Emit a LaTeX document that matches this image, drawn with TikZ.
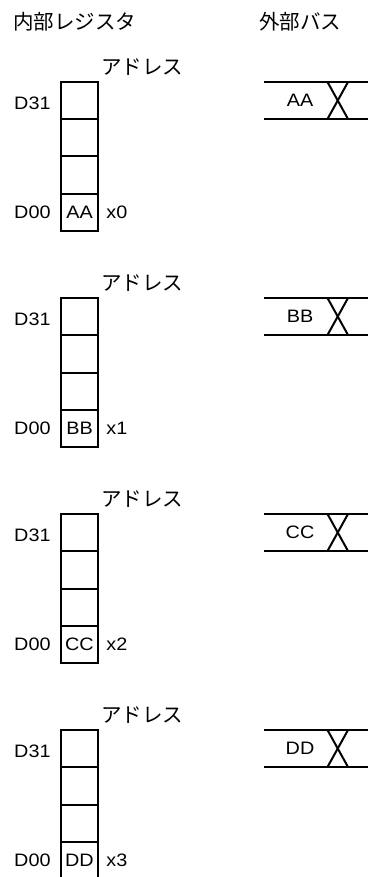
\documentclass[tikz,border=0pt]{standalone}
\usepackage{fontspec}
\setmainfont{Liberation Sans}[FakeStretch=1.1]
\newfontfamily\jpfont{Noto Sans CJK JP}
\usetikzlibrary{positioning}

\begin{document}
\begin{tikzpicture}[x=1pt,y=-1pt,
  regcell/.style={draw,line width=2pt,outer sep=0pt,inner sep=0pt,
    minimum width=37.5pt,minimum height=37.25pt,font=\fontsize{18}{21}\selectfont},
  reglabel/.style={inner sep=0pt,font=\fontsize{18}{21}\selectfont},
  jplabel/.style={inner sep=0pt,font=\jpfont\fontsize{20.5}{24}\selectfont},
  busline/.style={line width=2pt}
]
  \useasboundingbox (0,0) rectangle (368,877);
  % headings
  \node[jplabel,anchor=west] (titlereg) at (13,22) {内部レジスタ};
  \node[jplabel,anchor=west] (titlebus) at (259,22) {外部バス};
  \foreach \val [count=\i from 0] in {AA,BB,CC,DD} {
    % register column, D31 at top
    \node[regcell] (cell\i-3) at (79.5,{82+18.625+216*\i}) {};
    \node[regcell,below=0pt of cell\i-3] (cell\i-2) {};
    \node[regcell,below=0pt of cell\i-2] (cell\i-1) {};
    \node[regcell,below=0pt of cell\i-1] (cell\i-0) {\val};
    \node[reglabel,left=10pt of cell\i-3,yshift=-3pt] (msb\i) {D31};
    \node[reglabel,left=10pt of cell\i-0] (lsb\i) {D00};
    \node[reglabel,right=8pt of cell\i-0] (addr\i) {x\i};
    \node[jplabel,anchor=west] (addrtitle\i) at ([xshift=3pt,yshift=14.5pt]cell\i-3.north east) {アドレス};
    % external bus
    \coordinate (bustl\i) at (264,{82+216*\i});
    \coordinate (busbl\i) at (264,{119+216*\i});
    \coordinate (bustr\i) at (368,{82+216*\i});
    \coordinate (busbr\i) at (368,{119+216*\i});
    \coordinate (xtl\i) at (327.5,{82+216*\i});
    \coordinate (xtr\i) at (348,{82+216*\i});
    \coordinate (xbl\i) at (327.5,{119+216*\i});
    \coordinate (xbr\i) at (348,{119+216*\i});
    \draw[busline] (bustl\i) -- (bustr\i);
    \draw[busline] (busbl\i) -- (busbr\i);
    \draw[busline] (xtl\i) -- (xbr\i);
    \draw[busline] (xtr\i) -- (xbl\i);
    \node[reglabel] (busval\i) at (300,{100+216*\i}) {\val};
  }
\end{tikzpicture}
\end{document}
